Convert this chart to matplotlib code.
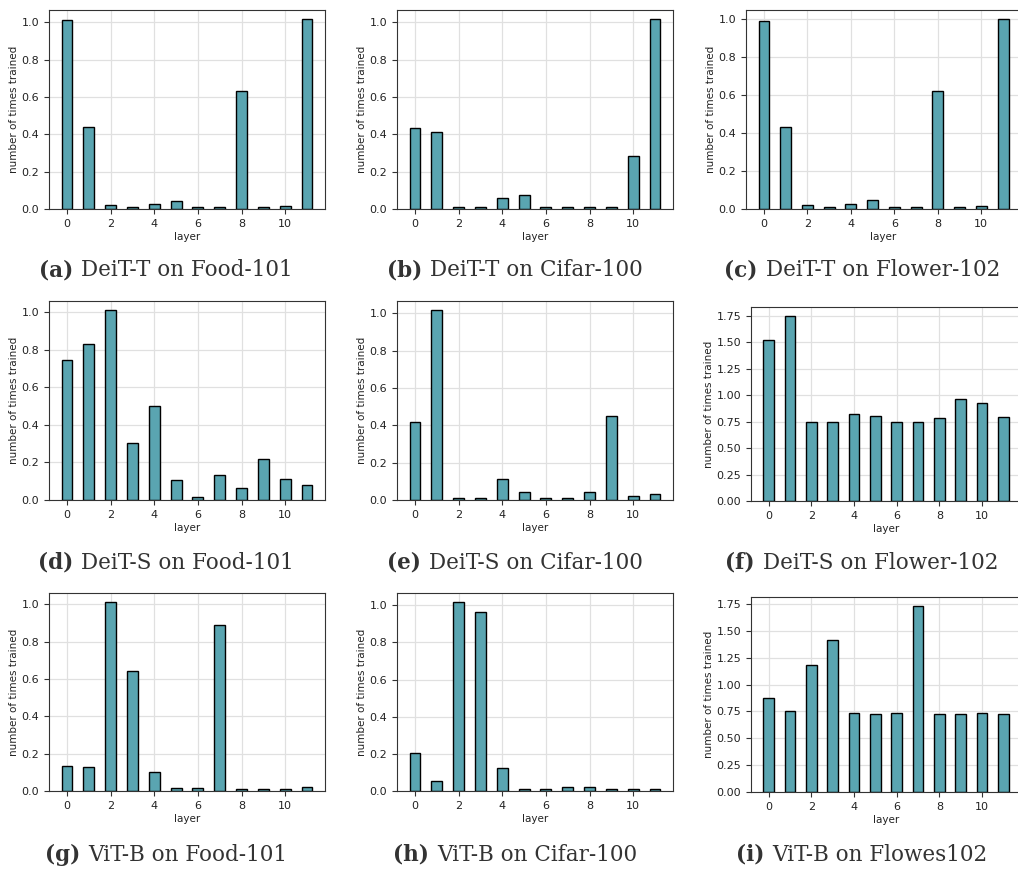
"""
Layer-wise training frequency for DeiT/ViT fine-tuning (3x3 grid).
"""

import numpy as np
import matplotlib
matplotlib.use('Agg')
import matplotlib.pyplot as plt
from matplotlib.offsetbox import TextArea, HPacker, AnnotationBbox

layers = np.arange(12)

# row 1: DeiT-T
deit_t_food = [1.01, 0.44, 0.02, 0.012, 0.028, 0.045, 0.012, 0.012, 0.63, 0.012, 0.017, 1.015]
deit_t_cifar = [0.435, 0.415, 0.013, 0.013, 0.058, 0.073, 0.013, 0.013, 0.013, 0.013, 0.283, 1.015]
deit_t_flower = [0.99, 0.435, 0.02, 0.012, 0.025, 0.048, 0.012, 0.012, 0.62, 0.012, 0.017, 1.0]

# row 2: DeiT-S
deit_s_food = [0.745, 0.83, 1.01, 0.305, 0.50, 0.105, 0.015, 0.135, 0.065, 0.22, 0.11, 0.08]
deit_s_cifar = [0.42, 1.015, 0.012, 0.012, 0.11, 0.045, 0.012, 0.012, 0.045, 0.45, 0.02, 0.03]
deit_s_flower = [1.52, 1.745, 0.745, 0.745, 0.82, 0.805, 0.745, 0.745, 0.78, 0.96, 0.925, 0.79]

# row 3: ViT-B
vit_b_food = [0.135, 0.13, 1.01, 0.645, 0.10, 0.015, 0.015, 0.89, 0.013, 0.013, 0.013, 0.02]
vit_b_cifar = [0.205, 0.055, 1.015, 0.965, 0.125, 0.013, 0.013, 0.02, 0.02, 0.013, 0.013, 0.013]
vit_b_flower = [0.88, 0.75, 1.18, 1.415, 0.735, 0.73, 0.735, 1.73, 0.73, 0.73, 0.735, 0.73]

panel_data = [deit_t_food, deit_t_cifar, deit_t_flower,
              deit_s_food, deit_s_cifar, deit_s_flower,
              vit_b_food, vit_b_cifar, vit_b_flower]

panel_tags = ['(a)', '(b)', '(c)', '(d)', '(e)', '(f)', '(g)', '(h)', '(i)']
panel_titles = ['DeiT-T on Food-101', 'DeiT-T on Cifar-100', 'DeiT-T on Flower-102',
                'DeiT-S on Food-101', 'DeiT-S on Cifar-100', 'DeiT-S on Flower-102',
                'ViT-B on Food-101', 'ViT-B on Cifar-100', 'ViT-B on Flowes102']

W, H = 1018, 873
fig = plt.figure(figsize=(W / 100, H / 100), dpi=100)

# axes boxes in pixels: left, top, right, bottom
boxes = [
    (49, 10, 325, 209), (397, 10, 673, 209), (746, 10, 1021, 209),
    (49, 301, 325, 500), (397, 301, 673, 500), (751, 307, 1021, 501),
    (49, 593, 325, 791), (397, 593, 673, 791), (751, 597, 1021, 792),
]
caption_pos = [(166, 270), (515, 270), (862, 270),
               (166, 563), (515, 563), (862, 563),
               (166, 855), (515, 855), (862, 855)]

bar_color = '#5aa5b1'

for i, vals in enumerate(panel_data):
    l, t, r, b = boxes[i]
    ax = fig.add_axes([l / W, 1 - b / H, (r - l) / W, (b - t) / H])
    ax.bar(layers, vals, width=0.5, color=bar_color, edgecolor='black', linewidth=1.0)
    ax.set_axisbelow(True)
    ax.grid(True, color='#e0e0e0', linewidth=0.9)
    ax.set_xticks([0, 2, 4, 6, 8, 10])
    ax.tick_params(labelsize=8, length=3.5, color='#333333', labelcolor='#222222')
    ax.set_xlabel('layer', fontsize=7.5, labelpad=2.5, color='#222222')
    ax.set_ylabel('number of times trained', fontsize=7.5, labelpad=1.5, color='#222222')
    for s in ax.spines.values():
        s.set_color('#333333')

    # caption: bold tag + regular text, centred under the panel
    tag = TextArea(panel_tags[i], textprops=dict(family='DejaVu Serif', fontsize=15.5,
                                                 fontweight='bold', color='#333333'))
    txt = TextArea(panel_titles[i], textprops=dict(family='DejaVu Serif', fontsize=15.5,
                                                   color='#333333'))
    pack = HPacker(children=[tag, txt], pad=0, sep=6, align='baseline')
    cx, cy = caption_pos[i]
    ab = AnnotationBbox(pack, (cx / W, 1 - cy / H), xycoords='figure fraction',
                        frameon=False, box_alignment=(0.5, 0.5))
    fig.add_artist(ab)

fig.savefig('out.png', dpi=100)
